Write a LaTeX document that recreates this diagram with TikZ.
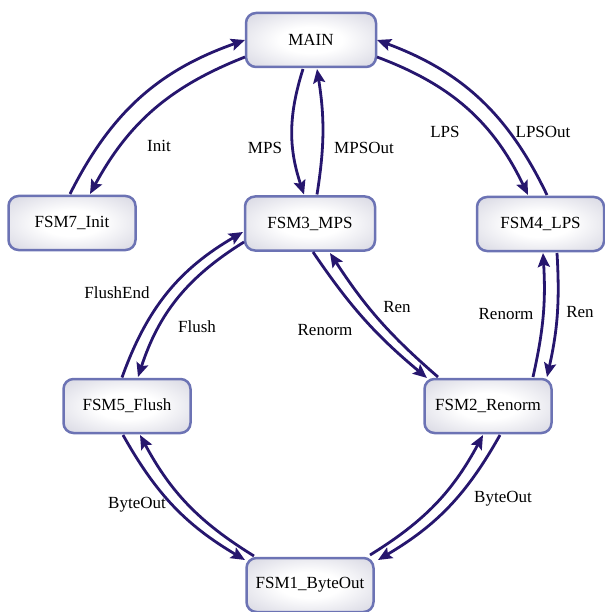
\documentclass[tikz,border=0pt]{standalone}
\usepackage{fontspec}
\setmainfont{Liberation Serif}
\usetikzlibrary{arrows.meta}
\definecolor{edgecol}{RGB}{38,22,110}
\definecolor{bordercol}{RGB}{108,115,180}
\definecolor{shadegray}{RGB}{190,190,208}
\pgfdeclareradialshading{stateshade}{\pgfpoint{0bp}{0bp}}{color(0bp)=(white); color(12bp)=(white); color(50bp)=(shadegray); color(60bp)=(shadegray)}
\tikzset{
  state/.style={draw=bordercol, line width=2.5pt, rounded corners=10pt, shading=stateshade,
    minimum width=127pt, minimum height=54pt, inner sep=0pt,
    font=\fontsize{17}{20}\selectfont},
  lab/.style={inner sep=0pt, font=\fontsize{17}{20}\selectfont},
  conn/.style={draw=edgecol, line width=2.8pt, -{Stealth[length=14pt,width=12pt,inset=2.5pt]}}
}
\begin{document}
\begin{tikzpicture}[x=1pt,y=-1pt]
\useasboundingbox (0,0) rectangle (604,612);
\node[state, minimum width=130pt] (main) at (311,40) {MAIN};
\node[state] (fsm7) at (72,223) {FSM7\_Init};
\node[state, minimum width=130pt] (fsm3) at (310,223.5) {FSM3\_MPS};
\node[state] (fsm4) at (540.5,224) {FSM4\_LPS};
\node[state] (fsm5) at (127,406) {FSM5\_Flush};
\node[state] (fsm2) at (488,406) {FSM2\_Renorm};
\node[state] (fsm1) at (310,585) {FSM1\_ByteOut};

% labels
\node[lab] (lInit) at (159,146) {Init};
\node[lab] (lMPS) at (265,148) {MPS};
\node[lab] (lMPSOut) at (364,148) {MPSOut};
\node[lab] (lLPS) at (445,132) {LPS};
\node[lab] (lLPSOut) at (543,132) {LPSOut};
\node[lab] (lFlushEnd) at (117,293) {FlushEnd};
\node[lab] (lFlush) at (197,327) {Flush};
\node[lab] (lRenormA) at (325,330) {Renorm};
\node[lab] (lRenA) at (397,307) {Ren};
\node[lab] (lRenormB) at (506,314) {Renorm};
\node[lab] (lRenB) at (580,312) {Ren};
\node[lab] (lByteA) at (137,505) {ByteOut};
\node[lab] (lByteB) at (503,499) {ByteOut};

% connectors
\draw[conn] ([shift={(-66,17)}]main.center) to[bend right=20] ([shift={(18,-29)}]fsm7.center);
\draw[conn] ([shift={(-2,-29)}]fsm7.center) to[bend left=22] ([shift={(-66,0)}]main.center);
\draw[conn] ([shift={(-8,29)}]main.center) to[bend right=18] ([shift={(-6,-29)}]fsm3.center);
\draw[conn] ([shift={(7,-29)}]fsm3.center) to[bend right=9] ([shift={(6,29)}]main.center);
\draw[conn] ([shift={(66,17)}]main.center) to[bend left=22] ([shift={(-12.5,-29)}]fsm4.center);
\draw[conn] ([shift={(6.5,-29)}]fsm4.center) to[bend right=22] ([shift={(66,0)}]main.center);
\draw[conn] ([shift={(-5,-28.5)}]fsm5.center) to[bend left=20] ([shift={(-67,8.5)}]fsm3.center);
\draw[conn] ([shift={(-66,18.5)}]fsm3.center) to[bend right=20] ([shift={(11,-29)}]fsm5.center);
\draw[conn] ([shift={(3,28.5)}]fsm3.center) to[bend right=8] ([shift={(-61,-28)}]fsm2.center);
\draw[conn] ([shift={(-50,-29)}]fsm2.center) to[bend left=8] ([shift={(20,29.5)}]fsm3.center);
\draw[conn] ([shift={(45,-29)}]fsm2.center) to[bend right=8] ([shift={(2.5,29)}]fsm4.center);
\draw[conn] ([shift={(16.5,29)}]fsm4.center) to[bend left=8] ([shift={(59,-29)}]fsm2.center);
\draw[conn] ([shift={(-4,29)}]fsm5.center) to[bend right=15] ([shift={(-65,-25)}]fsm1.center);
\draw[conn] ([shift={(-56,-29)}]fsm1.center) to[bend left=15] ([shift={(13,29)}]fsm5.center);
\draw[conn] ([shift={(12,29)}]fsm2.center) to[bend left=15] ([shift={(68,-25)}]fsm1.center);
\draw[conn] ([shift={(60,-30)}]fsm1.center) to[bend right=15] ([shift={(-5,29)}]fsm2.center);
\end{tikzpicture}
\end{document}
